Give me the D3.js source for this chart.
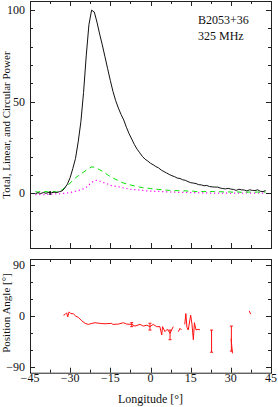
<!DOCTYPE html>
<html>
<head>
<meta charset="utf-8">
<script src="https://d3js.org/d3.v7.min.js"></script>
<style>
  body { margin: 0; background: #fff; }
  text { font-family: "Liberation Serif", "DejaVu Serif", serif; font-size: 12px; fill: #111; }
  .ytitle { font-size: 11px; }
</style>
</head>
<body>
<div id="chart"></div>
<script>
// pulse longitudes (deg) for the profile
var lon = [-43,-42,-41,-40,-39,-38,-37,-36,-35,-34,-33,-32,-31,-30,-29,-28,-27,-26,-25,-24,
  -23,-22,-21,-20,-19,-18,-17,-16,-15,-14,-13,-12,-11,-10,-9,-8,-7,-6,-5,-4,-3,-2,-1,
  0,1,2,3,4,5,6,7,8,9,10,11,12,13,14,15,16,17,18,19,20,21,22,23,24,25,26,27,28,29,30,
  31,32,33,34,35,36,37,38,39,40,41,42,43]

// total power (black)
var totalI = [-0.3,0.2,-0.2,0.3,-0.1,0.4,0.2,0.5,0.3,0.8,1.2,2.8,5,8.5,13.5,19,28,39,55,75,
  92,100,99,93.5,87,81,74.5,68,61.5,55.5,50.5,46.5,43,40,36,32.5,29.5,26.5,24,22,20,18.5,17.5,
  16.3,15.5,14.5,13.8,12.6,11.8,11,10.2,9.5,9,8.2,8,7.3,7,6.3,5.7,5.5,5.2,4.6,4.5,4,4.2,3.6,3.4,3.3,3.3,2.8,2.5,2.3,2.6,2.2,
  2,1.5,2.1,1.8,1.7,1.2,1.8,1.5,1.4,1.8,1,0.8,1.4]

// linear power (green dashed)
var linearL = [0.8,0.5,1,0.6,0.9,0.5,1,0.8,0.6,1.2,1.8,3,4,5.5,7,8.3,9.5,10.5,11.5,12.5,
  13.5,14.3,14.2,13.5,12.8,12,11,10,9,8.2,7.5,6.8,6,5.5,5,4.6,4.3,3.9,3.6,3.3,3,2.8,2.7,
  2.5,2.3,2.2,2,1.9,1.7,1.6,1.5,1.4,1.3,1.4,1.2,1.1,1.3,1,0.9,1.1,0.8,1,0.9,0.8,0.9,0.7,0.9,0.8,0.6,0.8,0.7,0.5,0.7,0.6,
  0.5,0.7,0.6,0.4,0.6,0.5,0.6,0.4,0.5,0.6,0.4,0.5,0.6]

// circular power (magenta dotted)
var circV = [-0.8,-1,-0.7,-0.9,-0.6,-0.8,-0.5,-0.6,-0.3,-0.4,-0.2,-0.1,0.1,0.3,0.6,1,1.4,1.8,2.4,3.2,
  4.5,5.8,6.8,7,6.6,6,5.5,5,4.2,4,3.7,3.5,3.1,2.8,2.5,2.2,2,1.9,1.8,1.7,1.5,1.3,1.2,
  1.1,1,1,0.9,0.8,0.8,0.7,0.6,0.6,0.5,0.4,0.4,0.4,0.3,0.4,0.3,0.2,0.3,0.2,0.1,0.2,0.1,0,0.1,0,0.1,-0.1,0,0.1,0,-0.1,
  0,0.1,0,-0.1,0,0.1,0,-0.1,0,0.1,0,0,0]

// baseline error bar on the total power
var offErr = [[-37.5, -1.1, 1.1]]

// position angle (deg); null marks a gap
var paLon = [-32.5,-31.9,-31.3,-30.9,-30.4,-29.8,-28.8,-27.9,-26.9,-25.7,-24.4,-23.2,-21.9,-20.7,
  -18.8,-17,-14.5,-14.1,-12,-10.1,-8.9,-7,-5.8,-3.9,-2.7,-1.4,-0.2,1,2.3,3.5,4.2,4.5,5.4,6.3,7.3,7.9,8.5,
  9.2,
  10.4,11,11.6,
  12.2,
  12.8,13.2,13.6,14.1,15,15.5,16,16.4,17,17.8,18.5,
  19,
  30.1,30.6,
  31,
  36.9,37.4]
var paVal = [1.2,2.4,5.3,-1.7,7,4.1,3.5,-0.5,-2.9,-8.6,-13.3,-15,-13.3,-12.1,
  -13.3,-13.9,-13.3,-15,-14.5,-12.1,-14.5,-15,-18,-15,-18,-16.5,-19,-15,-19,-19,-33.6,-19,-27.8,-23.5,-30.7,-24.8,-19,
  null,
  -27.8,-22,-24.8,
  null,
  -15,4.1,-20,-24.8,1.2,-15,-42,-12,-24.8,-23.7,-24.8,
  null,
  -40,-66,
  null,
  8.7,3]

// position angle error bars: longitude, low, high
var paErr = [[-7, -19, -12], [-0.2, -25, -13], [7.3, -42, -25], [22.8, -64, -25], [30.2, -62, -18]]

var xMajor = [-45,-30,-15,0,15,30,45]
var xMinor = [-37.5,-22.5,-7.5,7.5,22.5,37.5]
var pMajor = [0,50,100]
var pMinor = [-30,-20,-10,10,20,30,40,60,70,80,90]
var aMajor = [-90,0,90]
var aMinor = [-60,-30,30,60]

var W = 278, H = 407
var svg = d3.select("#chart").append("svg").attr("width", W).attr("height", H)

var x = d3.scaleLinear().domain([-45, 45]).range([30, 271])
var yP = d3.scaleLinear().domain([-30, 105]).range([248, 1])
var yA = d3.scaleLinear().domain([-100, 100]).range([372.7, 259])

// draws a framed panel with inward ticks on all four sides
function panel(ys, yMaj, yMin, xLabels) {
  var g = svg.append("g")
  var x0 = x.range()[0], x1 = x.range()[1]
  var y0 = ys.range()[0], y1 = ys.range()[1]
  g.append("rect")
    .attr("x", x0 + 0.5).attr("y", y1 + 0.5)
    .attr("width", x1 - x0).attr("height", y0 - y1)
    .attr("fill", "none").attr("stroke", "#222").attr("stroke-width", 1)

  var ticks = [[xMajor, 5], [xMinor, 3]]
  ticks.forEach(function (t) {
    t[0].forEach(function (v) {
      var px = Math.round(x(v)) + 0.5
      g.append("line").attr("x1", px).attr("x2", px).attr("y1", y0).attr("y2", y0 - t[1]).attr("stroke", "#222")
      g.append("line").attr("x1", px).attr("x2", px).attr("y1", y1).attr("y2", y1 + t[1]).attr("stroke", "#222")
    })
  })
  var yt = [[yMaj, 5], [yMin, 3]]
  yt.forEach(function (t) {
    t[0].forEach(function (v) {
      var py = Math.round(ys(v)) + 0.5
      g.append("line").attr("x1", x0).attr("x2", x0 + t[1]).attr("y1", py).attr("y2", py).attr("stroke", "#222")
      g.append("line").attr("x1", x1).attr("x2", x1 - t[1]).attr("y1", py).attr("y2", py).attr("stroke", "#222")
    })
  })

  g.selectAll(".yl").data(yMaj).enter().append("text")
    .attr("x", x0 - 5).attr("y", function (d) { return ys(d) + 4 })
    .attr("text-anchor", "end")
    .text(function (d) { return d < 0 ? "\u2212" + Math.abs(d) : d })

  if (xLabels) {
    g.selectAll(".xl").data(xMajor).enter().append("text")
      .attr("x", function (d) { return x(d) }).attr("y", 382)
      .attr("text-anchor", "middle")
      .text(function (d) { return d < 0 ? "\u2212" + Math.abs(d) : d })
  }
}

panel(yP, pMajor, pMinor, false)
panel(yA, aMajor, aMinor, true)

// profile curves
function profLine(vals) {
  return d3.line()
    .x(function (d, i) { return x(lon[i]) })
    .y(function (d) { return yP(d) })(vals)
}

svg.append("path").attr("d", profLine(circV))
  .attr("fill", "none").attr("stroke", "#ff00ff").attr("stroke-width", 1.2)
  .attr("stroke-dasharray", "1.2,2.8")
svg.append("path").attr("d", profLine(linearL))
  .attr("fill", "none").attr("stroke", "#00e000").attr("stroke-width", 1)
  .attr("stroke-dasharray", "5,4")
svg.append("path").attr("d", profLine(totalI))
  .attr("fill", "none").attr("stroke", "#111").attr("stroke-width", 1)

offErr.forEach(function (e) {
  svg.append("line").attr("x1", x(e[0])).attr("x2", x(e[0]))
    .attr("y1", yP(e[1])).attr("y2", yP(e[2])).attr("stroke", "#111").attr("stroke-width", 1.5)
})

// position angle
var paLine = d3.line()
  .defined(function (d, i) { return paVal[i] !== null })
  .x(function (d, i) { return x(paLon[i]) })
  .y(function (d) { return yA(d) })
svg.append("path").attr("d", paLine(paVal))
  .attr("fill", "none").attr("stroke", "#ff1010").attr("stroke-width", 1)

paErr.forEach(function (e) {
  var px = x(e[0])
  svg.append("line").attr("x1", px).attr("x2", px).attr("y1", yA(e[1])).attr("y2", yA(e[2]))
    .attr("stroke", "#ff1010").attr("stroke-width", 1)
  ;[e[1], e[2]].forEach(function (v) {
    svg.append("line").attr("x1", px - 1.5).attr("x2", px + 1.5).attr("y1", yA(v)).attr("y2", yA(v))
      .attr("stroke", "#ff1010").attr("stroke-width", 1)
  })
})

// labels
svg.append("text").attr("x", 198).attr("y", 24).text("B2053+36")
svg.append("text").attr("x", 198).attr("y", 40).text("325 MHz")

svg.append("text").attr("class", "ytitle")
  .attr("transform", "translate(10," + 125 + ") rotate(-90)")
  .attr("text-anchor", "middle")
  .text("Total, Linear, and Circular Power")
svg.append("text").attr("class", "ytitle")
  .attr("transform", "translate(10," + 313 + ") rotate(-90)")
  .attr("text-anchor", "middle")
  .text("Position Angle [\u00b0]")
svg.append("text").attr("x", 150.5).attr("y", 403).attr("text-anchor", "middle")
  .text("Longitude [\u00b0]")
</script>
</body>
</html>
